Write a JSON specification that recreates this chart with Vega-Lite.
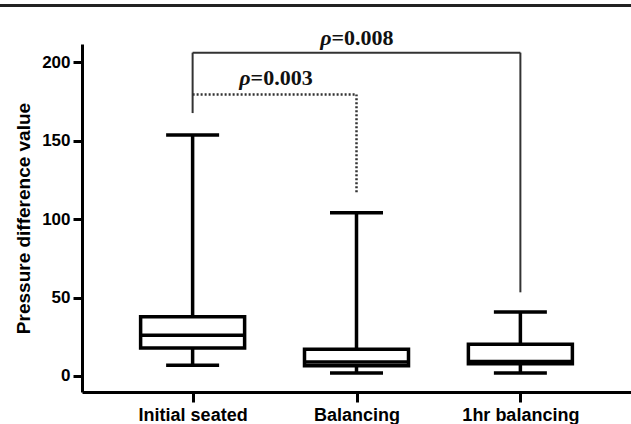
{
  "$schema": "https://vega.github.io/schema/vega-lite/v6.json",
  "width": 549,
  "height": 348,
  "autosize": {"type": "none"},
  "padding": {"left": 82, "top": 44, "right": 0, "bottom": 32},
  "background": "white",
  "config": {
    "view": {"stroke": null},
    "font": "Liberation Sans",
    "axis": {
      "domainColor": "black",
      "domainWidth": 3,
      "tickColor": "black",
      "tickWidth": 3,
      "labelColor": "black",
      "labelFontWeight": "bold",
      "titleColor": "black",
      "titleFontWeight": "bold",
      "grid": false
    }
  },
  "resolve": {"scale": {"x": "independent"}},
  "layer": [
    {
      "data": {"values": [{"edge": "top"}]},
      "mark": {"type": "rule", "color": "#222", "strokeWidth": 3},
      "encoding": {
        "x": {"datum": -0.15, "type": "quantitative", "scale": {"domain": [0, 1], "nice": false}, "axis": null},
        "x2": {"datum": 1},
        "y": {"datum": 236, "type": "quantitative", "scale": {"domain": [-10.2, 211.5], "nice": false, "zero": false}}
      }
    },
    {
      "layer": [
        {
          "data": {"values": [
            {"from": "Initial seated", "to": "Initial seated", "lo": 167.5, "hi": 206},
            {"from": "Initial seated", "to": "1hr balancing", "lo": 206, "hi": 206},
            {"from": "1hr balancing", "to": "1hr balancing", "lo": 53.3, "hi": 206}
          ]},
          "mark": {"type": "rule", "color": "#333", "strokeWidth": 2},
          "encoding": {
            "x": {"field": "from", "type": "nominal", "scale": {"type": "point", "domain": ["Initial seated", "Balancing", "1hr balancing"], "padding": 0.675},
                  "axis": {"title": null, "labelFontSize": 18, "labelPadding": 4, "tickSize": 10, "labelAngle": 0}},
            "x2": {"field": "to"},
            "y": {"field": "lo", "type": "quantitative", "scale": {"domain": [-10.2, 211.5], "nice": false, "zero": false},
                  "axis": {"title": "Pressure difference value", "values": [0, 50, 100, 150, 200], "labelFontSize": 17, "tickSize": 9, "labelPadding": 3, "titleFontSize": 19, "titlePadding": 8}},
            "y2": {"field": "hi"}
          }
        },
        {
          "data": {"values": [
            {"from": "Initial seated", "to": "Balancing", "lo": 179.4, "hi": 179.4},
            {"from": "Balancing", "to": "Balancing", "lo": 117, "hi": 179.4}
          ]},
          "mark": {"type": "rule", "color": "#333", "strokeWidth": 2.5, "strokeDash": [2, 2]},
          "encoding": {
            "x": {"field": "from", "type": "nominal"},
            "x2": {"field": "to"},
            "y": {"field": "lo", "type": "quantitative"},
            "y2": {"field": "hi"}
          }
        },
        {
          "data": {"name": "boxes"},
          "layer": [
            {
              "mark": {"type": "rule", "color": "black", "strokeWidth": 3.5},
              "encoding": {
                "x": {"field": "group", "type": "nominal"},
                "y": {"field": "lo", "type": "quantitative"},
                "y2": {"field": "hi"}
              }
            },
            {
              "mark": {"type": "bar", "width": 104, "fill": "white", "stroke": "black", "strokeWidth": 3.5},
              "encoding": {
                "x": {"field": "group", "type": "nominal"},
                "y": {"field": "q1", "type": "quantitative"},
                "y2": {"field": "q3"}
              }
            },
            {
              "mark": {"type": "tick", "orient": "horizontal", "size": 104, "thickness": 3.5, "color": "black", "opacity": 1},
              "encoding": {
                "x": {"field": "group", "type": "nominal"},
                "y": {"field": "med", "type": "quantitative"}
              }
            },
            {
              "mark": {"type": "tick", "orient": "horizontal", "size": 53, "thickness": 3.5, "color": "black", "opacity": 1},
              "encoding": {
                "x": {"field": "group", "type": "nominal"},
                "y": {"field": "lo", "type": "quantitative"}
              }
            },
            {
              "mark": {"type": "tick", "orient": "horizontal", "size": 53, "thickness": 3.5, "color": "black", "opacity": 1},
              "encoding": {
                "x": {"field": "group", "type": "nominal"},
                "y": {"field": "hi", "type": "quantitative"}
              }
            }
          ]
        },
        {
          "data": {"values": [{"note": "p"}]},
          "layer": [
            {
              "mark": {"type": "text", "font": "Liberation Serif", "fontSize": 22, "fontWeight": "bold", "fontStyle": "italic", "align": "right", "baseline": "alphabetic", "dx": -25, "color": "#111"},
              "encoding": {"x": {"datum": "Balancing", "type": "nominal"}, "y": {"datum": 210.8, "type": "quantitative"}, "text": {"value": "ρ"}}
            },
            {
              "mark": {"type": "text", "font": "Liberation Serif", "fontSize": 22, "fontWeight": "bold", "align": "left", "baseline": "alphabetic", "dx": -25, "color": "#111"},
              "encoding": {"x": {"datum": "Balancing", "type": "nominal"}, "y": {"datum": 210.8, "type": "quantitative"}, "text": {"value": "=0.008"}}
            },
            {
              "mark": {"type": "text", "font": "Liberation Serif", "fontSize": 22, "fontWeight": "bold", "fontStyle": "italic", "align": "right", "baseline": "alphabetic", "dx": 58, "color": "#111"},
              "encoding": {"x": {"datum": "Initial seated", "type": "nominal"}, "y": {"datum": 185.4, "type": "quantitative"}, "text": {"value": "ρ"}}
            },
            {
              "mark": {"type": "text", "font": "Liberation Serif", "fontSize": 22, "fontWeight": "bold", "align": "left", "baseline": "alphabetic", "dx": 58, "color": "#111"},
              "encoding": {"x": {"datum": "Initial seated", "type": "nominal"}, "y": {"datum": 185.4, "type": "quantitative"}, "text": {"value": "=0.003"}}
            }
          ]
        }
      ]
    }
  ],
  "datasets": {
    "boxes": [
      {"group": "Initial seated", "lo": 6.8, "q1": 17.8, "med": 26, "q3": 37.8, "hi": 153.5},
      {"group": "Balancing", "lo": 1.9, "q1": 6.6, "med": 8.9, "q3": 17, "hi": 104},
      {"group": "1hr balancing", "lo": 1.9, "q1": 7.8, "med": 9.2, "q3": 20.2, "hi": 40.8}
    ]
  }
}
